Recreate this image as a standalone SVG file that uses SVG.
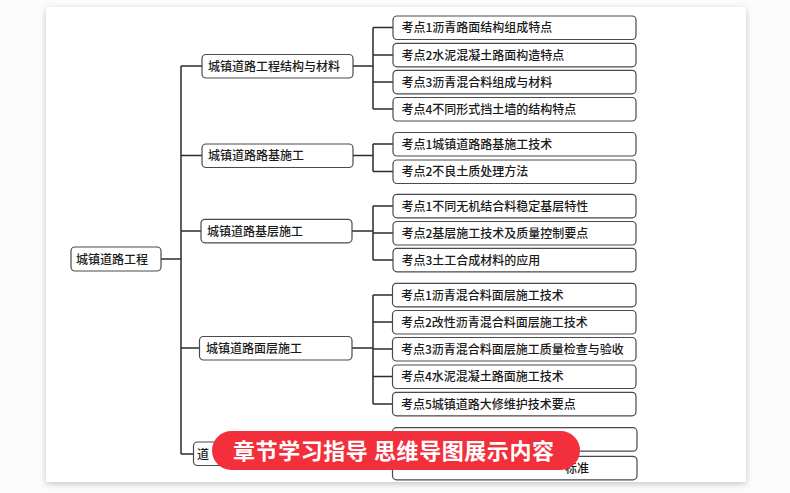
<svg xmlns="http://www.w3.org/2000/svg" width="790" height="493" viewBox="0 0 790 493">
  <defs>
    <filter id="paperShadow" x="-5%" y="-5%" width="110%" height="110%">
      <feDropShadow dx="0" dy="2" stdDeviation="3" flood-color="#000" flood-opacity="0.22"/>
    </filter>
    <style>
      .box { fill: #ffffff; stroke: #4a4a4a; stroke-width: 1.2; }
      .t { font-family: "Noto Sans CJK SC", "Liberation Serif", serif; font-size: 12px; font-weight: 500; fill: #1a1a1a; }
      .conn { fill: none; stroke: #2b2b2b; stroke-width: 1.5; }
      .banner { fill: #f42f3c; }
      .bt { font-family: "Noto Sans CJK SC", "Liberation Sans", sans-serif; font-size: 22px; font-weight: bold; fill: #ffffff; }
    </style>
  </defs>

  <rect x="0" y="0" width="790" height="493" fill="#fcfcfc"/>
  <rect x="46" y="7" width="700" height="475" fill="#ffffff" filter="url(#paperShadow)"/>

  <g id="connectors">
    <path class="conn" d="M161 259 H181"/>
    <path class="conn" d="M181 66 V454"/>
    <path class="conn" d="M181 66 H202 M181 155.5 H202 M181 231 H201 M181 348 H199.5 M181 454 H193.5"/>
    <path class="conn" d="M353 66 H373 M373 27.5 V109 M373 27.5 H393 M373 55 H393 M373 82 H393 M373 109 H393"/>
    <path class="conn" d="M353 155.5 H373 M373 144 V171.5 M373 144 H393 M373 171.5 H393"/>
    <path class="conn" d="M352 231 H373 M373 206 V260 M373 206 H393 M373 233 H393 M373 260 H393"/>
    <path class="conn" d="M352 348 H373 M373 295 V404 M373 295 H392.5 M373 322 H392.5 M373 349 H392.5 M373 376.5 H392.5 M373 404 H392.5"/>
    <path class="conn" d="M352 454 H373 M373 439.5 V468 M373 439.5 H392.5 M373 468 H392.5"/>
  </g>

  <g id="root">
    <rect class="box" x="71" y="247" width="90" height="24" rx="4"/>
    <text class="t" x="76" y="263.5">城镇道路工程</text>
  </g>

  <g id="n1">
    <rect class="box" x="202" y="54.5" width="151" height="23.5" rx="4"/>
    <text class="t" x="208" y="70.5">城镇道路工程结构与材料</text>
  </g>
  <g id="n2">
    <rect class="box" x="202" y="144" width="151" height="23.5" rx="4"/>
    <text class="t" x="208" y="160">城镇道路路基施工</text>
  </g>
  <g id="n3">
    <rect class="box" x="201" y="219.3" width="151" height="23.5" rx="4"/>
    <text class="t" x="207" y="235.5">城镇道路基层施工</text>
  </g>
  <g id="n4">
    <rect class="box" x="199.5" y="336.5" width="152.5" height="23.5" rx="4"/>
    <text class="t" x="206" y="352.5">城镇道路面层施工</text>
  </g>
  <g id="n5">
    <rect class="box" x="193.5" y="442" width="158.5" height="23.5" rx="4"/>
    <text class="t" x="197" y="458.5">道</text>
  </g>

  <g id="g1a"><rect class="box" x="393" y="16" width="243" height="23.5" rx="4"/><text class="t" x="401.5" y="32">考点1沥青路面结构组成特点</text></g>
  <g id="g1b"><rect class="box" x="393" y="43.3" width="243" height="23.5" rx="4"/><text class="t" x="401.5" y="59.5">考点2水泥混凝土路面构造特点</text></g>
  <g id="g1c"><rect class="box" x="393" y="70.3" width="243" height="23.5" rx="4"/><text class="t" x="401.5" y="86.5">考点3沥青混合料组成与材料</text></g>
  <g id="g1d"><rect class="box" x="393" y="97.5" width="243" height="23.5" rx="4"/><text class="t" x="401.5" y="113.5">考点4不同形式挡土墙的结构特点</text></g>

  <g id="g2a"><rect class="box" x="393" y="132.5" width="243" height="23.5" rx="4"/><text class="t" x="401.5" y="148.5">考点1城镇道路路基施工技术</text></g>
  <g id="g2b"><rect class="box" x="393" y="160" width="243" height="23.5" rx="4"/><text class="t" x="401.5" y="176">考点2不良土质处理方法</text></g>

  <g id="g3a"><rect class="box" x="393" y="194.3" width="243" height="23.5" rx="4"/><text class="t" x="401.5" y="210.5">考点1不同无机结合料稳定基层特性</text></g>
  <g id="g3b"><rect class="box" x="393" y="221.5" width="243" height="23.5" rx="4"/><text class="t" x="401.5" y="237.5">考点2基层施工技术及质量控制要点</text></g>
  <g id="g3c"><rect class="box" x="393" y="248.3" width="243" height="23.5" rx="4"/><text class="t" x="401.5" y="264.5">考点3土工合成材料的应用</text></g>

  <g id="g4a"><rect class="box" x="392.5" y="283.3" width="243.5" height="23.5" rx="4"/><text class="t" x="401" y="299.5">考点1沥青混合料面层施工技术</text></g>
  <g id="g4b"><rect class="box" x="392.5" y="310.5" width="243.5" height="23.5" rx="4"/><text class="t" x="401" y="326.5">考点2改性沥青混合料面层施工技术</text></g>
  <g id="g4c"><rect class="box" x="392.5" y="337.5" width="243.5" height="23.5" rx="4"/><text class="t" x="401" y="353.5">考点3沥青混合料面层施工质量检查与验收</text></g>
  <g id="g4d"><rect class="box" x="392.5" y="365" width="243.5" height="23.5" rx="4"/><text class="t" x="401" y="381">考点4水泥混凝土路面施工技术</text></g>
  <g id="g4e"><rect class="box" x="392.5" y="392.3" width="243.5" height="23.5" rx="4"/><text class="t" x="401" y="408.5">考点5城镇道路大修维护技术要点</text></g>

  <g id="g5a"><rect class="box" x="392.5" y="427.7" width="244.5" height="23.5" rx="4"/></g>
  <g id="g5b"><rect class="box" x="392.5" y="456.3" width="244.5" height="23.5" rx="4"/><text class="t" x="565" y="473">标准</text></g>

  <g id="banner">
    <rect class="banner" x="212" y="431" width="368" height="39" rx="19.5"/>
    <text class="bt" x="233" y="458.5" textLength="321" lengthAdjust="spacing">章节学习指导 思维导图展示内容</text>
  </g>
</svg>
